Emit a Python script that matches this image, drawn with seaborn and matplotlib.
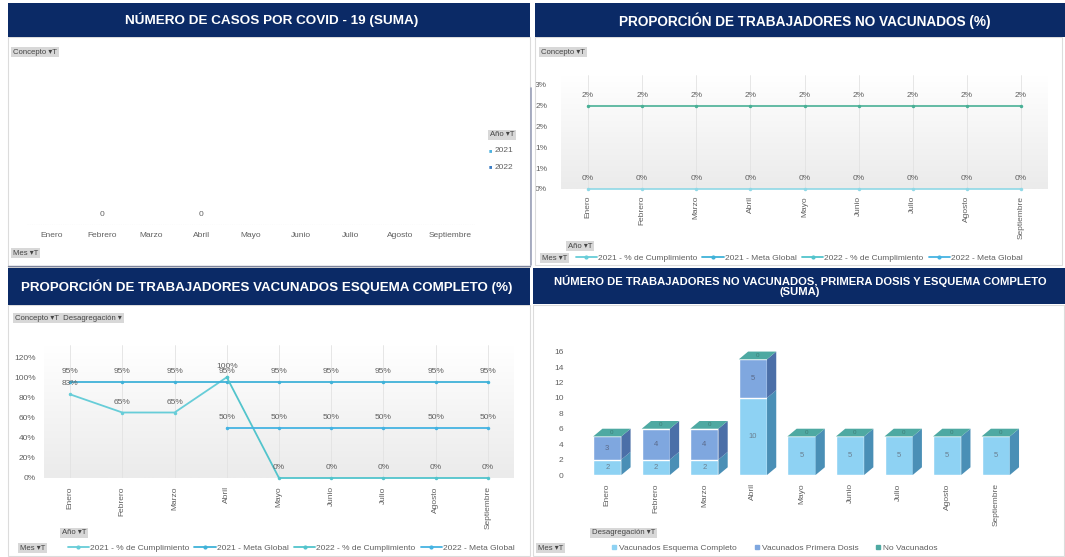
import numpy as np
import pandas as pd
import matplotlib
matplotlib.use("Agg")
import matplotlib.pyplot as plt
from matplotlib.patches import Rectangle, Polygon
from matplotlib.lines import Line2D
from matplotlib.colors import LinearSegmentedColormap
import seaborn as sns

# ---- data -------------------------------------------------------------
MONTHS = ["Enero", "Febrero", "Marzo", "Abril", "Mayo",
          "Junio", "Julio", "Agosto", "Septiembre"]

# panel 1: casos covid (only two visible zero labels)
CASOS = [np.nan, 0, np.nan, 0, np.nan, np.nan, np.nan, np.nan, np.nan]
CASOS_YEARS = ["2021", "2022"]

# panel 2: % no vacunados
NOVAC_CUMPL_2021 = [0, 0, 0, 0, 0, 0, 0, 0, 0]
NOVAC_META_2021 = [2, 2, 2, 2, 2, 2, 2, 2, 2]
NOVAC_TICKS = [0, 0.5, 1, 1.5, 2, 2.5]
NOVAC_TICK_LABELS = ["0%", "1%", "1%", "2%", "2%", "3%"]

# panel 3: % vacunados esquema completo
COMP_CUMPL_2021 = [83, 65, 65, 100, np.nan, np.nan, np.nan, np.nan, np.nan]
COMP_META_2021 = [95, 95, 95, 95, 95, 95, 95, 95, 95]
COMP_CUMPL_2022 = [np.nan, np.nan, np.nan, 100, 0, 0, 0, 0, 0]
COMP_META_2022 = [np.nan, np.nan, np.nan, 50, 50, 50, 50, 50, 50]
COMP_TICKS = [0, 20, 40, 60, 80, 100, 120]

# panel 4: number of workers by status
ESQUEMA = [2, 2, 2, 10, 5, 5, 5, 5, 5]
PRIMERA = [3, 4, 4, 5, 0, 0, 0, 0, 0]
NO_VAC = [0, 0, 0, 0, 0, 0, 0, 0, 0]
COUNT_TICKS = [0, 2, 4, 6, 8, 10, 12, 14, 16]

LEGEND_LINES = ["2021 - % de Cumplimiento", "2021 - Meta Global",
                "2022 - % de Cumplimiento", "2022 - Meta Global"]
LEGEND_BARS = ["Vacunados Esquema Completo", "Vacunados Primera Dosis",
               "No Vacunados"]

# ---- style ------------------------------------------------------------
sns.set_style("white")
plt.rcParams["font.family"] = ["Liberation Sans", "DejaVu Sans"]

NAVY = "#0b2a66"
GREY_TXT = "#606060"
FS = 6
W, H = 1065, 557


def box(x0, y0, x1, y1):
    """Pixel box (top-left origin) -> figure rect."""
    return [x0 / W, 1 - y1 / H, (x1 - x0) / W, (y1 - y0) / H]


def fxy(x, y):
    return x / W, 1 - y / H


fig = plt.figure(figsize=(W / 100, H / 100), dpi=100)
fig.patch.set_facecolor("white")

# panel frames and headers
for x0, y0, x1, y1 in [(8, 37, 530, 267), (535, 37, 1062, 265),
                       (8, 305, 530, 556), (533, 305, 1064, 556)]:
    fig.add_artist(Rectangle(fxy(x0, y1), (x1 - x0) / W, (y1 - y0) / H,
                             transform=fig.transFigure, fill=False,
                             edgecolor="#dcdcdc", lw=0.8))
for x0, y0, x1, y1 in [(8, 3, 530, 37), (535, 3, 1065, 37),
                       (8, 268, 530, 305), (533, 268, 1065, 304)]:
    fig.add_artist(Rectangle(fxy(x0, y1), (x1 - x0) / W, (y1 - y0) / H,
                             transform=fig.transFigure, facecolor=NAVY,
                             edgecolor="none"))
fig.add_artist(Line2D([531 / W, 531 / W], [1 - 265 / H, 1 - 88 / H],
                      transform=fig.transFigure, color="#9aa0b8", lw=1.2))
fig.add_artist(Line2D([8 / W, 530 / W], [1 - 266 / H, 1 - 266 / H],
                      transform=fig.transFigure, color="#7d849c", lw=1.0))

title_kw = dict(color="white", fontweight="bold", ha="center", va="center")
fig.text(*fxy(272, 20), "NÚMERO DE CASOS POR COVID - 19 (SUMA)",
         fontsize=9.7, **title_kw)
fig.text(*fxy(805, 21), "PROPORCIÓN DE TRABAJADORES NO VACUNADOS (%)",
         fontsize=9.8, **title_kw)
fig.text(*fxy(267, 287),
         "PROPORCIÓN DE TRABAJADORES VACUNADOS ESQUEMA COMPLETO (%)",
         fontsize=9.6, **title_kw)
fig.text(*fxy(800, 286),
         "NÚMERO DE TRABAJADORES NO VACUNADOS, PRIMERA DOSIS Y ESQUEMA COMPLETO\n(SUMA)",
         fontsize=8.1, linespacing=1.05, **title_kw)


def button(x, y, label, size=5.6):
    fig.text(*fxy(x, y), label, fontsize=size, color="#444444", ha="left",
             va="center",
             bbox=dict(boxstyle="square,pad=0.25", facecolor="#d8d8d8",
                       edgecolor="none"))


for x, y, lab in [(13, 52, "Concepto ▾T"), (13, 253, "Mes ▾T"),
                  (490, 135, "Año ▾T"),
                  (541, 52, "Concepto ▾T"), (568, 246, "Año ▾T"),
                  (542, 258, "Mes ▾T"),
                  (15, 318, "Concepto ▾T  Desagregación ▾"),
                  (62, 533, "Año ▾T"), (20, 548, "Mes ▾T"),
                  (592, 533, "Desagregación ▾T"), (538, 548, "Mes ▾T")]:
    button(x, y, lab)

grad = np.linspace(0, 1, 64).reshape(-1, 1)
grad_cmap = LinearSegmentedColormap.from_list("bg", ["#ffffff", "#ebebeb"])


def gradient_bg(ax):
    ax.imshow(grad, extent=(0, 1, 0, 1), transform=ax.transAxes,
              aspect="auto", cmap=grad_cmap, zorder=0)


def clean(ax):
    for s in ax.spines.values():
        s.set_visible(False)
    ax.tick_params(length=0, labelsize=FS, colors=GREY_TXT)
    ax.set_xlabel("")
    ax.set_ylabel("")
    ax.set_facecolor("none")


def label_point(ax, i, v, size=FS):
    ax.annotate(f"{v:.0f}%", (i, v), xytext=(0, 5),
                textcoords="offset points", ha="center", va="bottom",
                fontsize=size, color=GREY_TXT)


x_idx = np.arange(len(MONTHS))

# ---- panel 1 ------------------------------------------------------------
ax1 = fig.add_axes(box(27, 65, 475, 225))
df1 = pd.DataFrame({"mes": MONTHS, "casos": CASOS})
sns.barplot(data=df1, x="mes", y="casos", color="#4fb3e0", ax=ax1)
for i, v in enumerate(CASOS):
    if not np.isnan(v):
        ax1.annotate(f"{v:.0f}", (i, v), xytext=(0, 5),
                     textcoords="offset points", ha="center", va="bottom",
                     fontsize=FS, color=GREY_TXT)
ax1.axhline(0, color="#c8c8c8", lw=0.8, ls=(0, (1, 1)))
ax1.set_xlim(-0.5, 8.5)
ax1.set_ylim(0, 1)
ax1.set_yticks([])
clean(ax1)
ax1.tick_params(axis="x", pad=5)

for k, (yr, col) in enumerate(zip(CASOS_YEARS, ["#4fb3e0", "#3a7cc4"])):
    fig.text(*fxy(489, 151 + 16 * k), "■", color=col, fontsize=4,
             va="center", ha="left")
    fig.text(*fxy(495, 151 + 16 * k), yr, color=GREY_TXT, fontsize=FS,
             va="center", ha="left")

# ---- panel 2 ------------------------------------------------------------
ax2 = fig.add_axes(box(561, 75, 1048, 189))
gradient_bg(ax2)
df2 = pd.DataFrame({
    "x": np.tile(x_idx, 2),
    "val": NOVAC_CUMPL_2021 + NOVAC_META_2021,
    "serie": [LEGEND_LINES[0]] * 9 + [LEGEND_LINES[1]] * 9,
})
sns.lineplot(data=df2, x="x", y="val", hue="serie",
             palette=["#8fd8e6", "#49b096"], marker="o", markersize=2.5,
             markeredgewidth=0, lw=1.2, legend=False, ax=ax2, clip_on=False)
for serie_vals in (NOVAC_CUMPL_2021, NOVAC_META_2021):
    for i, v in enumerate(serie_vals):
        label_point(ax2, i, v)
for i in x_idx:
    ax2.axvline(i, color="#e2e2e2", lw=0.6, zorder=0.5)
ax2.set_xlim(-0.5, 8.5)
ax2.set_ylim(0, 2.74)
ax2.set_yticks(NOVAC_TICKS, NOVAC_TICK_LABELS)
ax2.set_xticks(x_idx, MONTHS, rotation=90)
clean(ax2)
ax2.tick_params(axis="y", pad=10)
ax2.tick_params(axis="x", pad=5)

# ---- panel 3 ------------------------------------------------------------
ax3 = fig.add_axes(box(44, 345, 514, 478))
gradient_bg(ax3)
series3 = [COMP_CUMPL_2021, COMP_META_2021, COMP_CUMPL_2022, COMP_META_2022]
df3 = pd.DataFrame({
    "x": np.tile(x_idx, 4),
    "val": sum(series3, []),
    "serie": sum([[n] * 9 for n in LEGEND_LINES], []),
}).dropna()
pal3 = ["#67cdd8", "#3fb2d8", "#52c4cc", "#45b3e2"]
sns.lineplot(data=df3, x="x", y="val", hue="serie", hue_order=LEGEND_LINES,
             palette=pal3, marker="o", markersize=2.5, markeredgewidth=0,
             lw=1.3, legend=False, ax=ax3, clip_on=False)
for k, vals in enumerate(series3):
    for i, v in enumerate(vals):
        if np.isnan(v):
            continue
        if k == 2 and not np.isnan(COMP_CUMPL_2021[i]):
            continue
        label_point(ax3, i, v)
for i in x_idx:
    ax3.axvline(i, color="#e2e2e2", lw=0.6, zorder=0.5)
ax3.set_xlim(-0.5, 8.5)
ax3.set_ylim(0, 132)
ax3.set_yticks(COMP_TICKS, [f"{t}%" for t in COMP_TICKS])
ax3.set_xticks(x_idx, MONTHS, rotation=90)
clean(ax3)
ax3.tick_params(axis="y", pad=6)
ax3.tick_params(axis="x", pad=6)

line_handles = [Line2D([], [], color=c, lw=1.3, marker="o", markersize=2)
                for c in pal3]
fig.legend(line_handles, LEGEND_LINES, loc="center left",
           bbox_to_anchor=fxy(60, 548), ncol=4, frameon=False, fontsize=FS,
           handlelength=2.6, columnspacing=0.6, handletextpad=0.1,
           labelcolor=GREY_TXT)
fig.legend(line_handles, LEGEND_LINES, loc="center left",
           bbox_to_anchor=fxy(568, 258), ncol=4, frameon=False, fontsize=FS,
           handlelength=2.6, columnspacing=0.6, handletextpad=0.1,
           labelcolor=GREY_TXT)

# ---- panel 4 ------------------------------------------------------------
ax4 = fig.add_axes(box(583, 340, 1020, 475))
FRONT_ESQ, FRONT_PRI, TOP_COL = "#8ed2f3", "#7fa7df", "#4ea9a2"
SIDE_ESQ, SIDE_PRI = "#4a8fb6", "#4b6fa8"
totals = [a + b + c for a, b, c in zip(ESQUEMA, PRIMERA, NO_VAC)]
df4 = pd.DataFrame({"mes": MONTHS, "total": totals, "esquema": ESQUEMA})
bw = 0.58
sns.barplot(data=df4, x="mes", y="total", color=FRONT_PRI, width=bw,
            saturation=1, ax=ax4)
sns.barplot(data=df4, x="mes", y="esquema", color=FRONT_ESQ, width=bw,
            saturation=1, ax=ax4)
dx, dy = 0.19, 1.0
for i, (e, p, t) in enumerate(zip(ESQUEMA, PRIMERA, totals)):
    r = i + bw / 2
    ax4.add_patch(Polygon([(r, 0), (r + dx, dy), (r + dx, e + dy), (r, e)],
                          closed=True, facecolor=SIDE_ESQ, edgecolor="none"))
    if p:
        ax4.add_patch(Polygon([(r, e), (r + dx, e + dy), (r + dx, t + dy),
                               (r, t)], closed=True, facecolor=SIDE_PRI,
                              edgecolor="none"))
    ax4.add_patch(Polygon([(i - bw / 2, t), (r, t), (r + dx, t + dy),
                           (i - bw / 2 + dx, t + dy)], closed=True,
                          facecolor=TOP_COL, edgecolor="none"))
    ax4.text(i, e / 2, f"{e}", ha="center", va="center", fontsize=5.5,
             color="#6a7f90")
    if p:
        ax4.text(i, e + p / 2, f"{p}", ha="center", va="center",
                 fontsize=5.5, color="#5a6a8a")
    ax4.text(i + dx / 2, t + dy / 2, f"{NO_VAC[i]}", ha="center",
             va="center", fontsize=4.5, color="#3f7f7a")
ax4.set_xlim(-0.5, 8.5)
ax4.set_ylim(0, 17.5)
ax4.set_yticks(COUNT_TICKS, [str(t) for t in COUNT_TICKS])
ax4.set_xticks(range(len(MONTHS)), MONTHS, rotation=90)
clean(ax4)
ax4.tick_params(axis="y", pad=14)
ax4.tick_params(axis="x", pad=6)

bar_handles = [Line2D([], [], lw=0, marker="s", markersize=3.5, color=c)
               for c in (FRONT_ESQ, FRONT_PRI, TOP_COL)]
fig.legend(bar_handles, LEGEND_BARS, loc="center left",
           bbox_to_anchor=fxy(603, 548), ncol=3, frameon=False, fontsize=FS,
           handlelength=0.8, columnspacing=2.0, handletextpad=0.2,
           labelcolor=GREY_TXT)

fig.savefig("out.png", dpi=100, facecolor="white")
plt.close(fig)
